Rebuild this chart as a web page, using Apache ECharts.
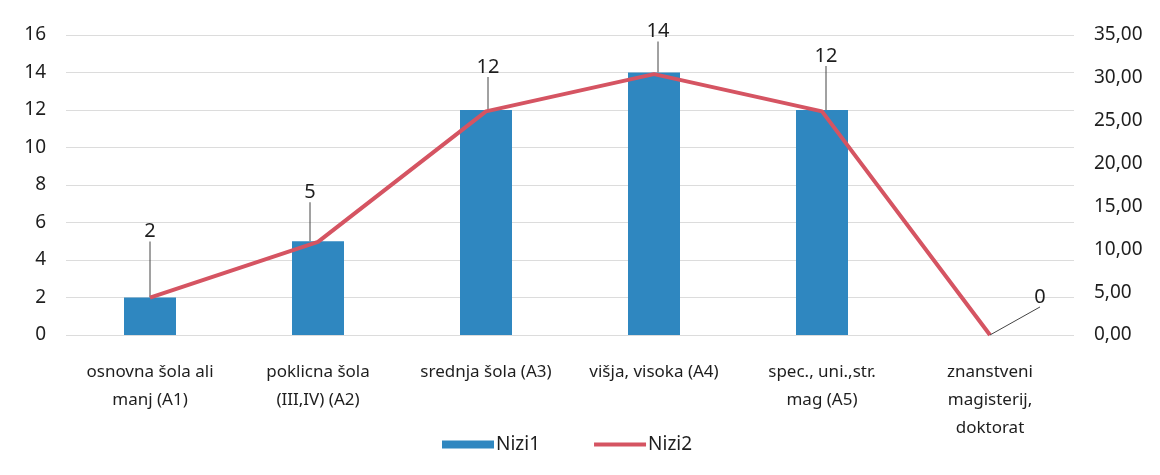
<!DOCTYPE html>
<html>
<head>
<meta charset="utf-8">
<script src="https://cdn.jsdelivr.net/npm/echarts@6/dist/echarts.min.js"></script>
<style>
  html, body { margin: 0; padding: 0; background: #fff; }
  #chart { width: 1160px; height: 475px; }
</style>
</head>
<body>
<div id="chart"></div>
<script>
// kategorije (izobrazba)
const categories = [
  "osnovna šola ali\nmanj (A1)",
  "poklicna šola\n(III,IV) (A2)",
  "srednja šola (A3)",
  "višja, visoka (A4)",
  "spec., uni.,str.\nmag (A5)",
  "znanstveni\nmagisterij,\ndoktorat"
];
const nizi1 = [2, 5, 12, 14, 12, 0];
const nizi2 = [4.35, 10.87, 26.09, 30.43, 26.09, 0];
const leftTicks = { min: 0, max: 16, interval: 2 };
const rightTicks = { min: 0, max: 35, interval: 5 };

// zamik oznak (kot v Excelu, ročno premaknjene)
const labelShift = [
  { dx: 0, dy: -51 },
  { dx: -8, dy: -34 },
  { dx: 2, dy: -28 },
  { dx: 4, dy: -26 },
  { dx: 4, dy: -39 },
  { dx: 50, dy: -23 }
];

const font = "Noto Sans";
const textColor = "#1e1e1e";

const chart = echarts.init(document.getElementById("chart"));

const labelStyle = { fontSize: 20, color: textColor, fontFamily: font };
const leader = { show: true, lineStyle: { color: "#444", width: 1 } };

chart.setOption({
  animation: false,
  textStyle: { fontFamily: font },
  grid: { left: 66, right: 86, top: 35, bottom: 140, containLabel: false },
  legend: {
    bottom: 16,
    left: 437,
    itemWidth: 52,
    itemHeight: 8,
    itemGap: 54,
    textStyle: { fontSize: 19, color: textColor, fontFamily: font, padding: [0, 0, 0, -3] },
    data: [
      { name: "Nizi1", icon: "rect" },
      { name: "Nizi2", icon: "path://M0,0h52v4h-52z" }
    ]
  },
  xAxis: {
    type: "category",
    data: categories,
    axisLine: { show: false },
    axisTick: { show: false },
    axisLabel: {
      interval: 0,
      margin: 23,
      fontSize: 17,
      lineHeight: 28,
      color: textColor,
      fontFamily: font
    }
  },
  yAxis: [
    {
      type: "value",
      ...leftTicks,
      axisLine: { show: false },
      axisTick: { show: false },
      splitLine: { lineStyle: { color: "#dcdcdc", width: 1 } },
      axisLabel: { fontSize: 19, color: textColor, margin: 20, fontFamily: font }
    },
    {
      type: "value",
      ...rightTicks,
      axisLine: { show: false },
      axisTick: { show: false },
      splitLine: { show: false },
      axisLabel: {
        fontSize: 19,
        color: textColor,
        margin: 20,
        fontFamily: font,
        formatter: (v) => v.toFixed(2).replace(".", ",")
      }
    }
  ],
  series: [
    {
      name: "Nizi1",
      type: "bar",
      data: nizi1.map((v) => (v === 0 ? { value: v, label: { show: false } } : v)),
      barWidth: 52,
      itemStyle: { color: "#2f87c0" },
      z: 2,
      label: { show: true, position: "top", ...labelStyle },
      labelLine: leader,
      labelLayout: (params) => labelShift[params.dataIndex]
    },
    {
      name: "Nizi2",
      type: "line",
      yAxisIndex: 1,
      // oznaka "0" zadnjega stolpca je pripeta na točko črte
      data: nizi2.map((v, i) =>
        nizi1[i] === 0 ? { value: v, label: { show: true } } : v
      ),
      symbol: "circle",
      symbolSize: 0.1,
      showSymbol: true,
      z: 3,
      lineStyle: { color: "#d55462", width: 4 },
      itemStyle: { color: "#d55462" },
      label: {
        show: false,
        position: "top",
        ...labelStyle,
        formatter: (p) => String(nizi1[p.dataIndex])
      },
      labelLine: leader,
      labelLayout: (params) => labelShift[params.dataIndex]
    }
  ]
});
</script>
</body>
</html>
